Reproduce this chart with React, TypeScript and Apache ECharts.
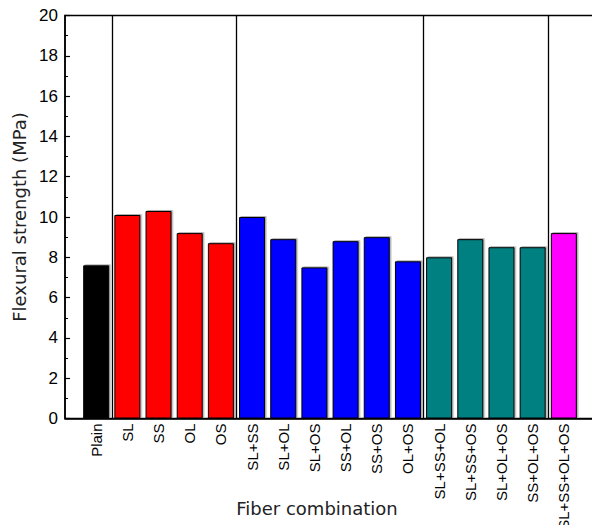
import React, { useEffect, useRef } from "react";
import * as echarts from "echarts";

const categories = [
  "Plain", "SL", "SS", "OL", "OS",
  "SL+SS", "SL+OL", "SL+OS", "SS+OL", "SS+OS", "OL+OS",
  "SL+SS+OL", "SL+SS+OS", "SL+OL+OS", "SS+OL+OS",
  "SL+SS+OL+OS",
];
const strengths = [7.6, 10.1, 10.3, 9.2, 8.7, 10.0, 8.9, 7.5, 8.8, 9.0, 7.8, 8.0, 8.9, 8.5, 8.5, 9.2];
const groupOf = [0, 1, 1, 1, 1, 2, 2, 2, 2, 2, 2, 3, 3, 3, 3, 4];
const groupColors = ["#000000", "#FF0000", "#0000FF", "#008080", "#FF00FF"];
const separators = [0.5, 4.5, 10.5, 14.5];
const yTicks = { min: 0, max: 20, interval: 2 };

const SANS = "'Liberation Sans', Arial, sans-serif";
const WIDE = "'DejaVu Sans', sans-serif";

export default function App() {
  const ref = useRef<HTMLDivElement>(null);
  useEffect(() => {
    if (!ref.current) return;
    const chart = echarts.init(ref.current, null, { renderer: "svg" });
    const data = strengths.map((v, i) => ({
      value: [i, v],
      itemStyle: { color: groupColors[groupOf[i]] },
    }));
    chart.setOption({
      animation: false,
      backgroundColor: "#ffffff",
      grid: {
        left: 65,
        top: 15.5,
        width: 530,
        height: 403,
        outerBoundsMode: "none",
        containLabel: false,
        show: true,
        borderColor: "#000",
        borderWidth: 1.5,
        backgroundColor: "transparent",
      },
      xAxis: {
        type: "value",
        min: -1,
        max: 16,
        interval: 1,
        axisLine: { show: true, onZero: false, lineStyle: { color: "#000", width: 1.5 } },
        axisTick: { show: false },
        splitLine: { show: false },
        axisLabel: {
          rotate: 90,
          margin: 5,
          fontSize: 15,
          fontFamily: SANS,
          color: "#000",
          formatter: (v: number) => (categories[v] !== undefined ? categories[v] : ""),
        },
      },
      yAxis: {
        type: "value",
        min: yTicks.min,
        max: yTicks.max,
        interval: yTicks.interval,
        name: "Flexural strength (MPa)",
        nameLocation: "middle",
        nameGap: 37,
        nameTextStyle: { fontSize: 18, fontFamily: WIDE, color: "#222" },
        axisLine: { show: true, onZero: false, lineStyle: { color: "#000", width: 1.5 } },
        axisTick: { show: true, inside: true, length: 5, lineStyle: { color: "#000", width: 1.2 } },
        minorTick: { show: true, splitNumber: 2, length: 3, lineStyle: { color: "#000", width: 1 } },
        splitLine: { show: false },
        axisLabel: { fontSize: 17, fontFamily: SANS, color: "#000", margin: 7 },
      },
      graphic: [
        {
          type: "text",
          x: 317,
          y: 508,
          style: {
            text: "Fiber combination",
            fontSize: 18,
            fontFamily: WIDE,
            fill: "#222",
            align: "center",
            verticalAlign: "middle",
          },
        },
      ],
      series: [
        {
          type: "bar",
          data,
          barWidth: 26,
          itemStyle: {
            borderColor: "#000",
            borderWidth: 1,
            shadowColor: "rgba(0,0,0,0.3)",
            shadowOffsetX: 1.5,
            shadowOffsetY: -1,
          },
          markLine: {
            silent: true,
            symbol: "none",
            label: { show: false },
            lineStyle: { color: "#000", width: 1.3, type: "solid" },
            data: separators.map((x) => ({ xAxis: x })),
          },
        },
      ],
    });
    return () => chart.dispose();
  }, []);
  return (
    <div
      ref={ref}
      style={{ position: "fixed", left: 0, top: 0, width: 592, height: 525 }}
    />
  );
}
